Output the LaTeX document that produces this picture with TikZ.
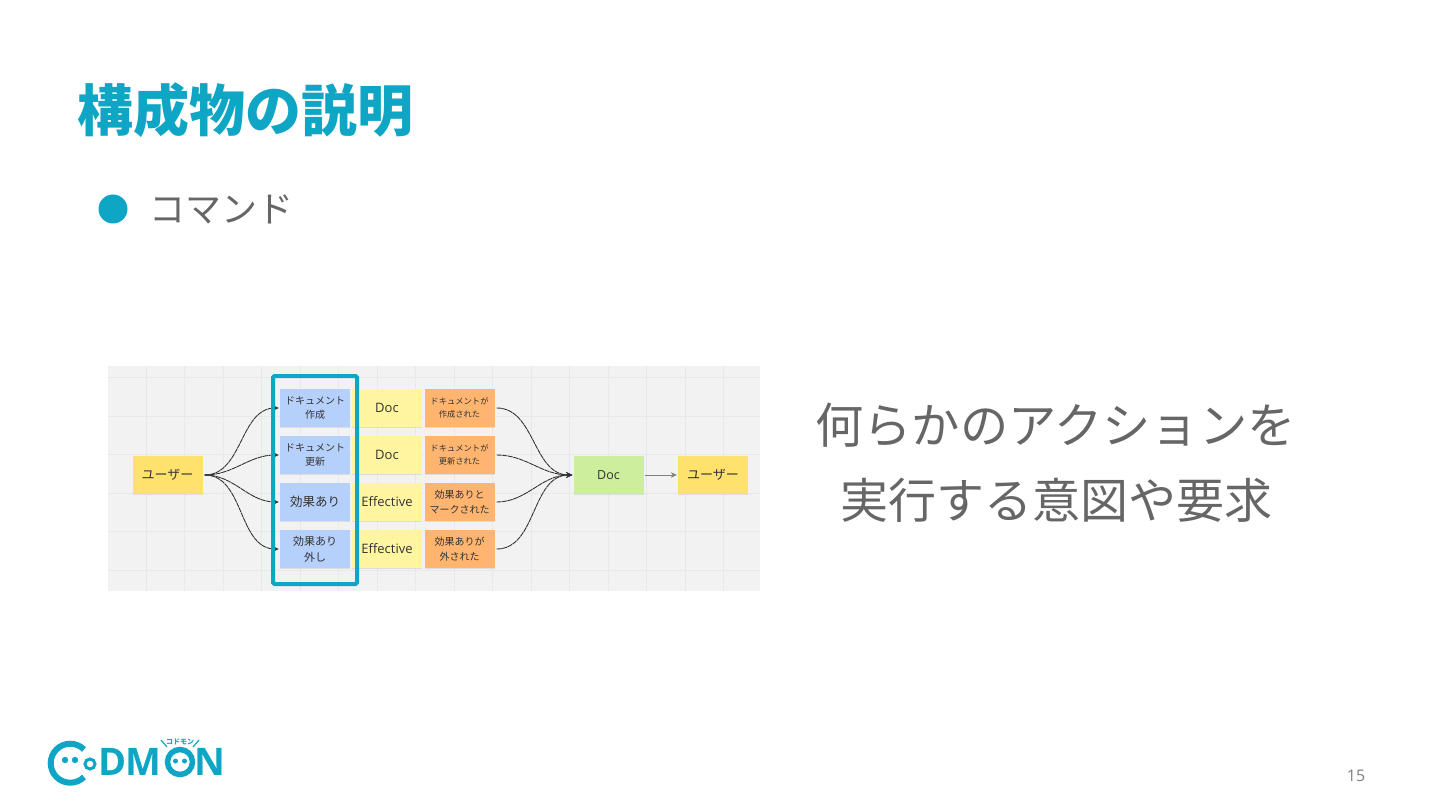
\documentclass[tikz,border=0pt]{standalone}
\usepackage{fontspec}
\setmainfont{Noto Sans CJK JP}
\newfontfamily\latinfont{Open Sans}
\usetikzlibrary{arrows.meta,shadows}
\definecolor{codmon}{HTML}{0FA5C4}
\definecolor{bodygray}{HTML}{666666}
\definecolor{boardgray}{HTML}{F2F2F2}
\definecolor{gridgray}{HTML}{E8E8E8}
\definecolor{noteuser}{HTML}{FFE26E}
\definecolor{noteblue}{HTML}{B5D0FB}
\definecolor{noteyellow}{HTML}{FFF4A0}
\definecolor{noteorange}{HTML}{FFB56F}
\definecolor{notegreen}{HTML}{CDEE9C}
\definecolor{inkgray}{HTML}{333333}
\newcommand{\pxfont}[1]{\fontsize{#1}{#1}\selectfont}
\tikzset{
    note/.style={minimum width=70pt, minimum height=38pt, inner sep=0pt, align=center, text=inkgray,
        drop shadow={shadow xshift=0pt, shadow yshift=-1.2pt, opacity=0.18}},
    flow/.style={-{Stealth[length=6pt,width=5.5pt]}, inkgray, line width=0.9pt, dash pattern=on 5pt off 0.6pt},
    logoletter/.style={anchor=base west, inner sep=0pt, text=codmon, font=\latinfont\pxfont{38}\bfseries},
}
\begin{document}
\begin{tikzpicture}[x=1pt,y=-1pt]
    \useasboundingbox (0,0) rectangle (1440,810);
    \fill[white] (0,0) rectangle (1440,810);

    % Title and bullet
    \node[anchor=west, text=codmon, font=\pxfont{56}\bfseries] (title) at (74,110) {構成物の説明};
    \fill[codmon] (113,209) circle (14.5);
    \node[anchor=west, text=bodygray, font=\pxfont{36}] (bullet) at (145.5,209) {コマンド};

    % Board with its grid
    \fill[boardgray] (108,366) rectangle (760,591);
    \foreach \x in {146,184.5,223,261.5,300,338.5,377,415.5,454,492.5,531,569.5,608,646.5,685,723.5} {
        \draw[gridgray, line width=0.8pt] (\x,366) -- (\x,591);
    }
    \foreach \y in {377.5,416,454.5,493,531.5,570} {
        \draw[gridgray, line width=0.8pt] (108,\y) -- (760,\y);
    }

    % Notes
    \node[note, fill=noteuser, font=\pxfont{13}] (user) at (167.5,475) {ユーザー};
    \node[note, fill=noteblue, font=\pxfont{10}] (cmdA) at (315,408) {ドキュメント\\[4pt]作成};
    \node[note, fill=noteblue, font=\pxfont{10}] (cmdB) at (315,455) {ドキュメント\\[4pt]更新};
    \node[note, fill=noteblue, font=\pxfont{12.5}] (cmdC) at (315,502) {効果あり};
    \node[note, fill=noteblue, font=\pxfont{11}] (cmdD) at (315,549) {効果あり\\[5pt]外し};

    \foreach \y/\name/\label in {408/aggA/Doc, 455/aggB/Doc, 502/aggC/Effective, 549/aggD/Effective} {
        \node[note, fill=noteyellow, font=\latinfont\pxfont{13}] (\name) at (387,\y) {\label};
    }

    \node[note, fill=noteorange, font=\pxfont{8.3}] (evtA) at (459.5,408) {ドキュメントが\\[5pt]作成された};
    \node[note, fill=noteorange, font=\pxfont{8.3}] (evtB) at (459.5,455) {ドキュメントが\\[5pt]更新された};
    \node[note, fill=noteorange, font=\pxfont{10}] (evtC) at (459.5,502) {効果ありと\\[5pt]マークされた};
    \node[note, fill=noteorange, font=\pxfont{10}] (evtD) at (459.5,549) {効果ありが\\[5pt]外された};

    \node[note, fill=notegreen, font=\latinfont\pxfont{12.5}] (doc) at (608.5,475) {Doc};
    \node[note, fill=noteuser, font=\pxfont{13}] (userB) at (713,475) {ユーザー};

    % Connectors
    \foreach \name in {cmdA,cmdB,cmdC,cmdD} {
        \draw[flow, shorten <=2pt, shorten >=1pt] (user.east) to[out=0, in=180] (\name.west);
    }
    \foreach \name in {evtA,evtB,evtC,evtD} {
        \draw[flow, shorten <=2pt, shorten >=1pt] (\name.east) to[out=0, in=180] (doc.west);
    }
    \draw[-{Stealth[length=6pt,width=5.5pt]}, gray, line width=0.7pt, shorten <=1pt, shorten >=1pt] (doc.east) -- (userB.west);

    % Highlight frame
    \draw[codmon, line width=4pt, rounded corners=1.5pt] (273,376) rectangle (357,584);

    % Right hand text
    \node[text=bodygray, font=\pxfont{48.3}, align=center] (lineA) at (1055.5,425) {何らかのアクションを};
    \node[text=bodygray, font=\pxfont{48}, align=center] (lineB) at (1056,500) {実行する意図や要求};

    % Logo
    \draw[codmon, line width=6pt] (84,777) arc (45:315:19.5);
    \fill[codmon] (65,760) circle (3.2) (75,760) circle (3.2);
    \draw[codmon, line width=3pt] (90,764) circle (5);
    \node[logoletter] (logoD) at (98,775.5) {D};
    \node[logoletter] (logoM) at (125,775.5) {M};
    \draw[codmon, line width=5.5pt] (180,762) circle (12.5);
    \fill[codmon] (175.5,761) circle (2.5) (184.5,761) circle (2.5);
    \node[logoletter] (logoN) at (194,775.5) {N};
    \node[text=codmon, font=\pxfont{7}\bfseries, inner sep=0pt] (logoKana) at (180,742) {コドモン};
    \draw[codmon, line width=1.2pt] (161,740) -- (167,747) (199,740) -- (193,747);

    % Page number
    \node[text=gray, font=\latinfont\pxfont{16}] (page) at (1356,776) {15};
\end{tikzpicture}
\end{document}
